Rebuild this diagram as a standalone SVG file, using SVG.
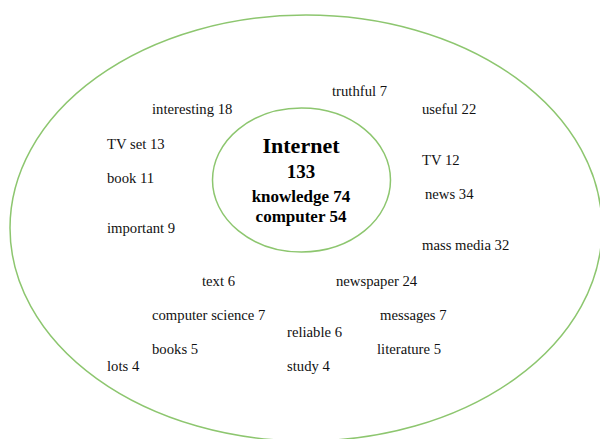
<svg xmlns="http://www.w3.org/2000/svg" width="600" height="439" viewBox="0 0 600 439">
<style>
.ring{fill:none;stroke:#8dc66f;stroke-width:1.5}
.w{font-family:"Liberation Serif","Times New Roman",serif;font-size:14.7px;fill:#111}
.c{font-family:"Liberation Serif","Times New Roman",serif;font-weight:bold;fill:#000;text-anchor:middle}
</style>
<rect width="600" height="439" fill="#fff"/>
<g id="outer">
<ellipse class="ring" cx="306" cy="228" rx="296" ry="213"/>
</g>
<g id="core">
<ellipse class="ring" cx="301.5" cy="180" rx="89" ry="72"/>
<text class="c" x="301" y="153" font-size="22">Internet</text>
<text class="c" x="301" y="178" font-size="19">133</text>
<text class="c" x="301" y="202" font-size="17">knowledge 74</text>
<text class="c" x="301" y="222" font-size="17">computer 54</text>
</g>
<g id="words" transform="translate(0,1)">
<text class="w" x="332" y="95">truthful 7</text>
<text class="w" x="152" y="113">interesting 18</text>
<text class="w" x="422" y="113">useful 22</text>
<text class="w" x="107" y="148">TV set 13</text>
<text class="w" x="422" y="164">TV 12</text>
<text class="w" x="107" y="182">book 11</text>
<text class="w" x="425" y="198">news 34</text>
<text class="w" x="107" y="232">important 9</text>
<text class="w" x="422" y="249">mass media 32</text>
<text class="w" x="202" y="285">text 6</text>
<text class="w" x="336" y="285">newspaper 24</text>
<text class="w" x="152" y="319">computer science 7</text>
<text class="w" x="380" y="319">messages 7</text>
<text class="w" x="287" y="336">reliable 6</text>
<text class="w" x="152" y="353">books 5</text>
<text class="w" x="377" y="353">literature 5</text>
<text class="w" x="107" y="370">lots 4</text>
<text class="w" x="287" y="370">study 4</text>
</g>
</svg>
